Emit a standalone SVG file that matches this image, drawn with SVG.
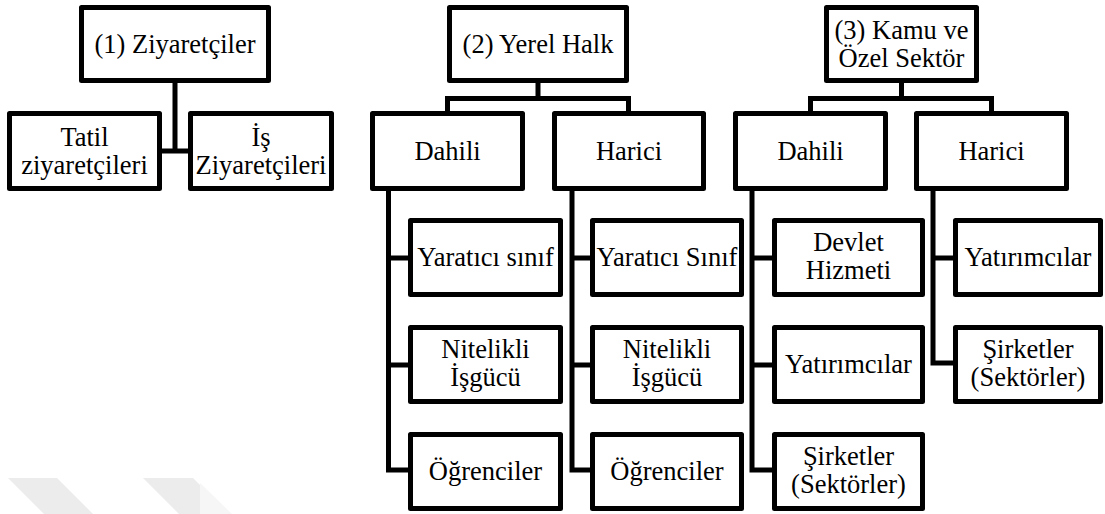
<svg xmlns="http://www.w3.org/2000/svg" width="1105" height="514" viewBox="0 0 1105 514">
  <style>
    .box { fill: #ffffff; stroke: #000000; stroke-width: 5; stroke-linejoin: round; }
    .wire { fill: none; stroke: #000000; stroke-width: 5; stroke-linejoin: miter; stroke-linecap: butt; }
    .lbl { font-family: Liberation Serif, Tinos, Times New Roman, Times, Noto Serif, DejaVu Serif, FreeSerif, serif; font-size: 26.5px; fill: #000000; text-anchor: middle; }
    .mark { fill: #ececec; }
    .mark-faint { fill: #f6f6f6; }
  </style>

  <rect x="0" y="0" width="1105" height="514" fill="#ffffff"/>

  <!-- faint background stripes, lower left -->
  <g id="backdrop">
    <polygon class="mark" points="8,478 57,478 94,515 45,515"/>
    <polygon class="mark" points="143,478 193,478 230,515 180,515"/>
    <polygon class="mark-faint" points="200,483 233,515 200,515"/>
  </g>

  <!-- connectors -->
  <g id="connectors">
    <!-- (1) Ziyaretçiler -->
    <path class="wire" d="M175 83 V151 M162 151 H188"/>
    <!-- (2) Yerel Halk -->
    <path class="wire" d="M538 83 V98.5 M447.5 111 V98.5 H628.5 V111"/>
    <!-- (3) Kamu ve Özel Sektör -->
    <path class="wire" d="M901.5 83 V98.5 M810.5 111 V98.5 H991.5 V111"/>
    <!-- Dahili (2) children -->
    <path class="wire" d="M388.5 191 V470 H408 M388.5 258 H408 M388.5 365 H408"/>
    <!-- Harici (2) children -->
    <path class="wire" d="M572 191 V470 H590 M572 258 H590 M572 365 H590"/>
    <!-- Dahili (3) children -->
    <path class="wire" d="M752 191 V470 H772 M752 258 H772 M752 365 H772"/>
    <!-- Harici (3) children -->
    <path class="wire" d="M933 191 V363 H953 M933 258 H953"/>
  </g>

  <!-- column 1 -->
  <g id="ziyaretciler">
    <rect class="box" x="81.5" y="7.5" width="187" height="73"/>
    <text class="lbl" x="175" y="52.5">(1) Ziyaretçiler</text>
  </g>
  <g id="tatil-ziyaretcileri">
    <rect class="box" x="9.5" y="113.5" width="150" height="75"/>
    <text class="lbl" x="84.5" y="145.5">Tatil</text>
    <text class="lbl" x="84.5" y="173.5">ziyaretçileri</text>
  </g>
  <g id="is-ziyaretcileri">
    <rect class="box" x="190.5" y="113.5" width="141" height="75"/>
    <text class="lbl" x="261" y="145.5">İş</text>
    <text class="lbl" x="261" y="173.5">Ziyaretçileri</text>
  </g>

  <!-- column 2 -->
  <g id="yerel-halk">
    <rect class="box" x="449.5" y="7.5" width="177" height="73"/>
    <text class="lbl" x="538" y="52.5">(2) Yerel Halk</text>
  </g>
  <g id="yh-dahili">
    <rect class="box" x="372.5" y="113.5" width="150" height="75"/>
    <text class="lbl" x="447.5" y="159.5">Dahili</text>
  </g>
  <g id="yh-harici">
    <rect class="box" x="554.5" y="113.5" width="149" height="75"/>
    <text class="lbl" x="629" y="159.5">Harici</text>
  </g>
  <g id="yh-dahili-yaratici">
    <rect class="box" x="410.5" y="220.5" width="150" height="74"/>
    <text class="lbl" x="485.5" y="266">Yaratıcı sınıf</text>
  </g>
  <g id="yh-dahili-nitelikli">
    <rect class="box" x="410.5" y="327.5" width="150" height="74"/>
    <text class="lbl" x="485.5" y="358">Nitelikli</text>
    <text class="lbl" x="485.5" y="386">İşgücü</text>
  </g>
  <g id="yh-dahili-ogrenciler">
    <rect class="box" x="410.5" y="434.5" width="150" height="74"/>
    <text class="lbl" x="485.5" y="480">Öğrenciler</text>
  </g>
  <g id="yh-harici-yaratici">
    <rect class="box" x="592.5" y="220.5" width="149" height="74"/>
    <text class="lbl" x="667" y="266">Yaratıcı Sınıf</text>
  </g>
  <g id="yh-harici-nitelikli">
    <rect class="box" x="592.5" y="327.5" width="149" height="74"/>
    <text class="lbl" x="667" y="358">Nitelikli</text>
    <text class="lbl" x="667" y="386">İşgücü</text>
  </g>
  <g id="yh-harici-ogrenciler">
    <rect class="box" x="592.5" y="434.5" width="149" height="74"/>
    <text class="lbl" x="667" y="480">Öğrenciler</text>
  </g>

  <!-- column 3 -->
  <g id="kamu-ozel">
    <rect class="box" x="826.5" y="7.5" width="150" height="73"/>
    <text class="lbl" x="901.5" y="38.5">(3) Kamu ve</text>
    <text class="lbl" x="901.5" y="66.5">Özel Sektör</text>
  </g>
  <g id="ko-dahili">
    <rect class="box" x="735.5" y="113.5" width="150" height="75"/>
    <text class="lbl" x="810.5" y="159.5">Dahili</text>
  </g>
  <g id="ko-harici">
    <rect class="box" x="916.5" y="113.5" width="150" height="75"/>
    <text class="lbl" x="991.5" y="159.5">Harici</text>
  </g>
  <g id="ko-dahili-devlet">
    <rect class="box" x="774.5" y="220.5" width="148" height="74"/>
    <text class="lbl" x="848.5" y="251">Devlet</text>
    <text class="lbl" x="848.5" y="279">Hizmeti</text>
  </g>
  <g id="ko-dahili-yatirimcilar">
    <rect class="box" x="774.5" y="327.5" width="148" height="74"/>
    <text class="lbl" x="848.5" y="373">Yatırımcılar</text>
  </g>
  <g id="ko-dahili-sirketler">
    <rect class="box" x="774.5" y="434.5" width="148" height="74"/>
    <text class="lbl" x="848.5" y="465">Şirketler</text>
    <text class="lbl" x="848.5" y="493">(Sektörler)</text>
  </g>
  <g id="ko-harici-yatirimcilar">
    <rect class="box" x="955.5" y="220.5" width="145" height="74"/>
    <text class="lbl" x="1028" y="266">Yatırımcılar</text>
  </g>
  <g id="ko-harici-sirketler">
    <rect class="box" x="955.5" y="327.5" width="145" height="74"/>
    <text class="lbl" x="1028" y="358">Şirketler</text>
    <text class="lbl" x="1028" y="386">(Sektörler)</text>
  </g>
</svg>
